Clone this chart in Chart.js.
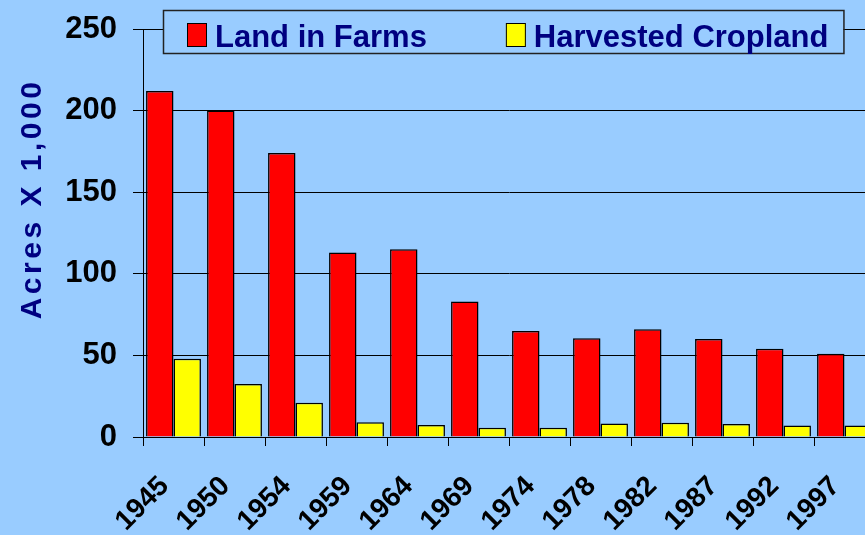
<!DOCTYPE html>
<html>
<head>
<meta charset="utf-8">
<script src="https://cdn.jsdelivr.net/npm/chart.js@4"></script>
<style>
  html, body { margin: 0; padding: 0; background: #99ccff; overflow: hidden; width: 865px; height: 535px; }
  canvas { display: block; }
</style>
</head>
<body>
<canvas id="c" width="880" height="535"></canvas>
<script>
const years = ['1945', '1950', '1954', '1959', '1964', '1969', '1974', '1978', '1982', '1987', '1992', '1997'];
const landInFarms = [212, 200, 174, 113, 115, 83, 65, 60.5, 66, 60, 54, 51];
const harvestedCropland = [48, 32.5, 21, 9, 7.3, 5.7, 5.7, 8.3, 8.8, 8, 7.1, 7.1];
const seriesNames = ['Land in Farms', 'Harvested Cropland'];
const yTitle = 'Acres X 1,000';

const FONT = '"Liberation Sans", Arial, sans-serif';
const BG = '#99ccff';
const NAVY = '#000080';

const legendBox = {
  id: 'legendBox',
  afterDraw(chart) {
    const ctx = chart.ctx;
    ctx.save();
    ctx.font = 'bold 31px ' + FONT;
    const ds = chart.data.datasets;
    const left = 163, top = 10, h = 43;
    let x = left + 24;
    const items = [];
    ds.forEach((d, i) => {
      const w = ctx.measureText(d.label).width;
      items.push({ x, w, d });
      x += 28 + w + (i < ds.length - 1 ? 79 : 0);
    });
    const right = x + 15;
    ctx.fillStyle = BG;
    ctx.fillRect(left, top, right - left, h);
    ctx.strokeStyle = '#222';
    ctx.lineWidth = 1.5;
    ctx.strokeRect(left + 0.5, top + 0.5, right - left, h);
    items.forEach(it => {
      ctx.fillStyle = it.d.backgroundColor;
      ctx.fillRect(it.x, 23, 20, 24);
      ctx.strokeStyle = '#000';
      ctx.lineWidth = 1;
      ctx.strokeRect(it.x + 0.5, 23.5, 19, 23);
      ctx.fillStyle = NAVY;
      ctx.textBaseline = 'alphabetic';
      ctx.textAlign = 'left';
      ctx.fillText(it.d.label, it.x + 28, 47);
    });
    ctx.restore();
  }
};

const titleTweak = {
  id: 'titleTweak',
  beforeDraw(chart) {
    const s = chart.scales.y;
    if (s && !s._tweaked) {
      const orig = s.drawTitle.bind(s);
      s.drawTitle = function () {
        const ctx = chart.ctx;
        ctx.save();
        try { ctx.letterSpacing = '3.5px'; } catch (e) {}
        ctx.translate(0, -34);
        orig();
        ctx.restore();
      };
      s._tweaked = true;
    }
  }
};

new Chart(document.getElementById('c'), {
  type: 'bar',
  data: {
    labels: years,
    datasets: [
      { label: seriesNames[0], data: landInFarms, backgroundColor: '#ff0000', borderColor: '#000', borderWidth: 1.5 },
      { label: seriesNames[1], data: harvestedCropland, backgroundColor: '#ffff00', borderColor: '#000', borderWidth: 1.5 }
    ]
  },
  options: {
    responsive: false,
    animation: false,
    devicePixelRatio: 1,
    layout: { padding: { top: 29, right: 5, left: 0, bottom: 0 } },
    datasets: { bar: { categoryPercentage: 0.9, barPercentage: 1.0 } },
    plugins: { legend: { display: false }, tooltip: { enabled: false } },
    scales: {
      x: {
        offset: true,
        grid: { drawOnChartArea: false, color: '#000', tickLength: 9, offset: true },
        border: { color: '#000', width: 1 },
        ticks: { color: '#000', font: { family: FONT, size: 28, weight: 'bold' }, minRotation: 45, maxRotation: 45, padding: 24, labelOffset: -9 },
        afterFit(s) { s.height = 98; s.paddingLeft = 0; s.paddingRight = 0; }
      },
      y: {
        min: 0, max: 250,
        grid: { color: '#000', lineWidth: 1, tickLength: 10 },
        border: { color: '#000', width: 1 },
        ticks: { stepSize: 50, color: '#000', font: { family: FONT, size: 31, weight: 'bold' }, padding: 16 },
        title: { display: true, text: yTitle, color: NAVY, font: { family: FONT, size: 30, weight: 'bold' }, padding: { top: 15, bottom: 0 } },
        afterFit(s) { s.width = 143; s.paddingTop = 0; s.paddingBottom = 0; }
      }
    }
  },
  plugins: [titleTweak, legendBox]
});
</script>
</body>
</html>
